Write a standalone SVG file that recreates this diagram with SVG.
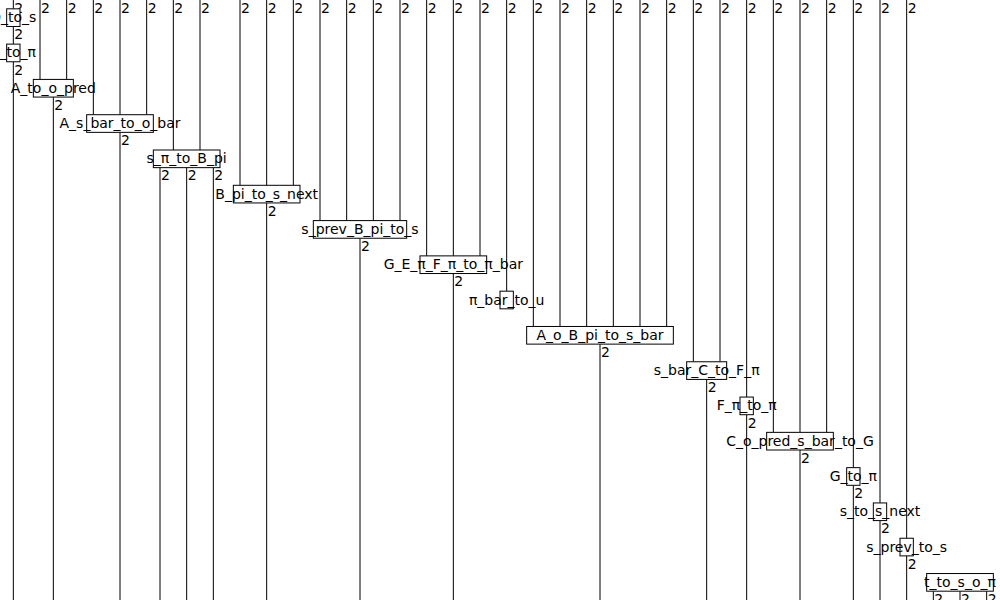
<svg xmlns="http://www.w3.org/2000/svg" width="1000" height="600" viewBox="0 0 1000 600">
<style>
.w{stroke:#000;stroke-width:1;fill:none}
.b{fill:#fff;stroke:#000;stroke-width:1}
.t{font-family:"DejaVu Sans",sans-serif;font-size:14px;fill:#000;text-anchor:middle}
.n{font-family:"DejaVu Sans",sans-serif;font-size:14px;fill:#000}
</style>
<rect width="1000" height="600" fill="#fff"/>
<g id="connectors">
<path class="w" d="M13.333 0V8.824M13.333 26.471V44.118M13.333 61.765V600
M40 0V79.412M66.667 0V79.412M53.333 97.059V600
M93.333 0V114.706M120 0V114.706M146.667 0V114.706M120 132.353V600
M173.333 0V150M200 0V150M160 167.647V600M186.667 167.647V600M213.333 167.647V600
M240 0V185.294M266.667 0V185.294M293.333 0V185.294M266.667 202.941V600
M320 0V220.588M346.667 0V220.588M373.333 0V220.588M400 0V220.588M360 238.235V600
M426.667 0V255.882M453.333 0V255.882M480 0V255.882M453.333 273.529V600
M506.667 0V291.176
M533.333 0V326.471M560 0V326.471M586.667 0V326.471M613.333 0V326.471M640 0V326.471M666.667 0V326.471M600 344.118V600
M693.333 0V361.765M720 0V361.765M706.667 379.412V600
M746.667 0V397.059M746.667 414.706V600
M773.333 0V432.353M800 0V432.353M826.667 0V432.353M800 450V600
M853.333 0V467.647M853.333 485.294V600
M880 0V502.941M880 520.588V600
M906.667 0V538.235M906.667 555.882V600
M933.333 591.176V600M960 591.176V600M986.667 591.176V600"/>
<g class="n">
<text x="14.3" y="12.8">2</text><text x="41" y="12.8">2</text><text x="67.7" y="12.8">2</text><text x="94.3" y="12.8">2</text><text x="121" y="12.8">2</text><text x="147.7" y="12.8">2</text><text x="174.3" y="12.8">2</text><text x="201" y="12.8">2</text><text x="241" y="12.8">2</text><text x="267.7" y="12.8">2</text><text x="294.3" y="12.8">2</text><text x="321" y="12.8">2</text><text x="347.7" y="12.8">2</text><text x="374.3" y="12.8">2</text><text x="401" y="12.8">2</text><text x="427.7" y="12.8">2</text><text x="454.3" y="12.8">2</text><text x="481" y="12.8">2</text><text x="507.7" y="12.8">2</text><text x="534.3" y="12.8">2</text><text x="561" y="12.8">2</text><text x="587.7" y="12.8">2</text><text x="614.3" y="12.8">2</text><text x="641" y="12.8">2</text><text x="667.7" y="12.8">2</text><text x="694.3" y="12.8">2</text><text x="721" y="12.8">2</text><text x="747.7" y="12.8">2</text><text x="774.3" y="12.8">2</text><text x="801" y="12.8">2</text><text x="827.7" y="12.8">2</text><text x="854.3" y="12.8">2</text><text x="881" y="12.8">2</text><text x="907.7" y="12.8">2</text>
<text x="14.3" y="39.3">2</text>
<text x="14.3" y="74.6">2</text>
<text x="54.3" y="109.9">2</text>
<text x="121" y="145.2">2</text>
<text x="161" y="180.4">2</text><text x="187.7" y="180.4">2</text><text x="214.3" y="180.4">2</text>
<text x="267.7" y="215.7">2</text>
<text x="361" y="251">2</text>
<text x="454.3" y="286.3">2</text>
<text x="601" y="356.9">2</text>
<text x="707.7" y="392.2">2</text>
<text x="747.7" y="427.5">2</text>
<text x="801" y="462.8">2</text>
<text x="854.3" y="498.1">2</text>
<text x="881" y="533.4">2</text>
<text x="907.7" y="568.7">2</text>
<text x="934.3" y="604">2</text><text x="961" y="604">2</text><text x="987.7" y="604">2</text>
</g>
</g>
<g id="D_to_s"><rect class="b" x="6.667" y="8.824" width="13.333" height="17.647"/><text class="t" x="13.333" y="22.1">D_to_s</text></g>
<g id="E_to_pi"><rect class="b" x="6.667" y="44.118" width="13.333" height="17.647"/><text class="t" x="13.333" y="57.4">E_to_π</text></g>
<g id="A_to_o_pred"><rect class="b" x="33.333" y="79.412" width="40" height="17.647"/><text class="t" x="53.333" y="92.7">A_to_o_pred</text></g>
<g id="A_s_bar_to_o_bar"><rect class="b" x="86.667" y="114.706" width="66.667" height="17.647"/><text class="t" x="120" y="128">A_s_bar_to_o_bar</text></g>
<g id="s_pi_to_B_pi"><rect class="b" x="153.333" y="150" width="66.667" height="17.647"/><text class="t" x="186.667" y="163.3">s_π_to_B_pi</text></g>
<g id="B_pi_to_s_next"><rect class="b" x="233.333" y="185.294" width="66.667" height="17.647"/><text class="t" x="266.667" y="198.6">B_pi_to_s_next</text></g>
<g id="s_prev_B_pi_to_s"><rect class="b" x="313.333" y="220.588" width="93.333" height="17.647"/><text class="t" x="360" y="233.9">s_prev_B_pi_to_s</text></g>
<g id="G_E_pi_F_pi_to_pi_bar"><rect class="b" x="420" y="255.882" width="66.667" height="17.647"/><text class="t" x="453.333" y="269.2">G_E_π_F_π_to_π_bar</text></g>
<g id="pi_bar_to_u"><rect class="b" x="500" y="291.176" width="13.333" height="17.647"/><text class="t" x="506.667" y="304.5">π_bar_to_u</text></g>
<g id="A_o_B_pi_to_s_bar"><rect class="b" x="526.667" y="326.471" width="146.667" height="17.647"/><text class="t" x="600" y="339.8">A_o_B_pi_to_s_bar</text></g>
<g id="s_bar_C_to_F_pi"><rect class="b" x="686.667" y="361.765" width="40" height="17.647"/><text class="t" x="706.667" y="375.1">s_bar_C_to_F_π</text></g>
<g id="F_pi_to_pi"><rect class="b" x="740" y="397.059" width="13.333" height="17.647"/><text class="t" x="746.667" y="410.4">F_π_to_π</text></g>
<g id="C_o_pred_s_bar_to_G"><rect class="b" x="766.667" y="432.353" width="66.667" height="17.647"/><text class="t" x="800" y="445.7">C_o_pred_s_bar_to_G</text></g>
<g id="G_to_pi"><rect class="b" x="846.667" y="467.647" width="13.333" height="17.647"/><text class="t" x="853.333" y="480.9">G_to_π</text></g>
<g id="s_to_s_next"><rect class="b" x="873.333" y="502.941" width="13.333" height="17.647"/><text class="t" x="880" y="516.2">s_to_s_next</text></g>
<g id="s_prev_to_s"><rect class="b" x="900" y="538.235" width="13.333" height="17.647"/><text class="t" x="906.667" y="551.5">s_prev_to_s</text></g>
<g id="t_to_s_o_pi"><rect class="b" x="926.667" y="573.529" width="66.667" height="17.647"/><text class="t" x="960" y="586.8">t_to_s_o_π</text></g>
</svg>
